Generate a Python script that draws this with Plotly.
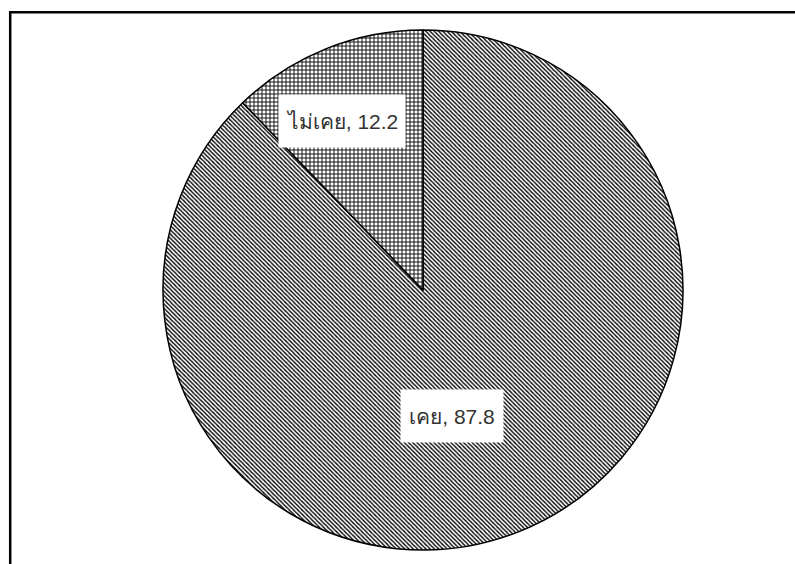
import plotly.graph_objects as go

labels = ["เคย", "ไม่เคย"]
values = [87.8, 12.2]
label_text = ["เคย, 87.8", "ไม่เคย, 12.2"]

W, H = 795, 564
ml, mr, mt, mb = 51, 0, 30, 14
pw, ph = W - ml - mr, H - mt - mb

def px(x):
    return (x - ml) / pw

def py(y):
    return 1 - (y - mt) / ph

fig = go.Figure(go.Pie(
    labels=labels,
    values=values,
    sort=False,
    direction="clockwise",
    rotation=0,
    textinfo="none",
    hoverinfo="label+value",
    showlegend=False,
    marker=dict(
        colors=["white", "white"],
        line=dict(color="black", width=1.5),
        pattern=dict(
            shape=["\\", "+"],
            size=[3, 4],
            solidity=[0.45, 0.4],
            fgcolor="black",
            bgcolor="white",
        ),
    ),
))

font = dict(family="Liberation Sans, Arial, sans-serif", size=21, color="#333")
fig.add_annotation(x=px(452), y=py(416), xref="paper", yref="paper",
                   text=label_text[0], showarrow=False, bgcolor="white",
                   width=100, height=50, font=font, xanchor="center", yanchor="middle")
fig.add_annotation(x=px(342), y=py(121), xref="paper", yref="paper",
                   text=label_text[1], showarrow=False, bgcolor="white",
                   width=124, height=50, font=font, xanchor="center", yanchor="middle")

# chart frame (left and top edges visible)
fig.add_shape(type="line", xref="paper", yref="paper",
              x0=px(10.2), x1=px(10.2), y0=py(12), y1=py(580),
              line=dict(color="black", width=2.5))
fig.add_shape(type="line", xref="paper", yref="paper",
              x0=px(9), x1=px(810), y0=py(12.2), y1=py(12.2),
              line=dict(color="black", width=2.5))

fig.update_layout(
    width=W, height=H,
    margin=dict(l=ml, r=mr, t=mt, b=mb),
    paper_bgcolor="white",
    plot_bgcolor="white",
)

fig.write_html("out.html")
